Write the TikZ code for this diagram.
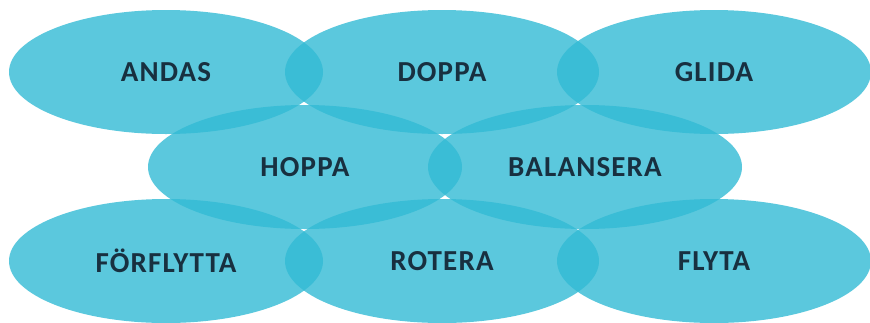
\documentclass[tikz,border=0pt]{standalone}
\usepackage{fontspec}
\setmainfont{Carlito}
\usetikzlibrary{shapes.geometric,positioning}
\definecolor{lagoon}{RGB}{50,186,212}
\definecolor{ink}{RGB}{24,48,64}
\newcommand{\W}[1]{\fontsize{29}{32}\selectfont\bfseries\addfontfeature{LetterSpace=4}#1}

\begin{document}
\begin{tikzpicture}[x=1pt,y=1pt,
% Bubble style
bubble/.style={ellipse,fill=lagoon,fill opacity=0.8,text opacity=1,
	minimum width=314pt,minimum height=124pt,inner sep=0pt,
	text=ink,font=\W},
]
\useasboundingbox (0,0) rectangle (870,-322);
%% Top row
\node (t1) [bubble] at (166,-72) {ANDAS};
\node (t2) [bubble] at (442,-72) {DOPPA};
\node (t3) [bubble] at (714,-72) {GLIDA};
%% Middle row
\node (m1) [bubble] at (305,-167) {HOPPA};
\node (m2) [bubble] at (585,-167) {BALANSERA};
%% Bottom row
\node (b1) [bubble] at (166,-261) {FÖRFLYTTA};
\node (b2) [bubble] at (442,-261) {ROTERA};
\node (b3) [bubble] at (714,-261) {FLYTA};
\end{tikzpicture}
\end{document}
